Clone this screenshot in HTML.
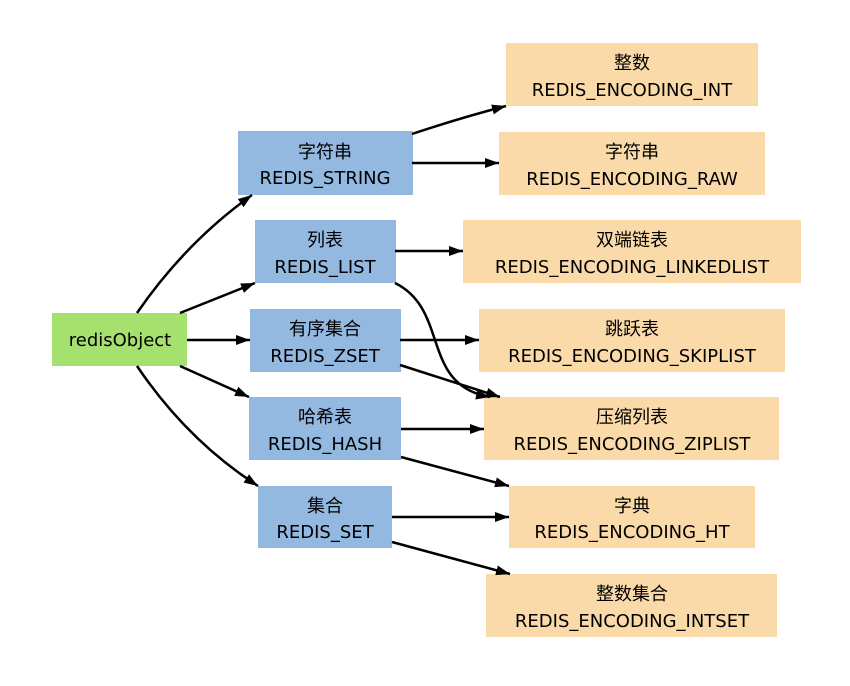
<!DOCTYPE html>
<html><head><meta charset="utf-8"><style>
html,body{margin:0;padding:0;background:#fff;}
svg text{font-family:"DejaVu Sans","Noto Sans CJK SC",sans-serif;font-size:18px;fill:#000;text-anchor:middle;}
</style></head><body>
<svg width="850" height="681" viewBox="0 0 850 681" xmlns="http://www.w3.org/2000/svg">
<defs><marker id="a" markerWidth="14" markerHeight="10" refX="14" refY="5" orient="auto" markerUnits="userSpaceOnUse"><path d="M0,0 L14,5 L0,10 z" fill="#000"/></marker></defs>
<g fill="#94b9e1">
<rect x="238" y="131" width="175" height="64"/>
<rect x="255" y="220" width="141" height="63"/>
<rect x="250" y="309" width="151" height="63"/>
<rect x="249" y="397" width="152" height="63"/>
<rect x="258" y="486" width="134" height="62"/>
</g>
<rect x="52" y="313" width="135" height="53" fill="#a6e06e"/>
<g fill="#fadaa9">
<rect x="506" y="43" width="252" height="63"/>
<rect x="499" y="132" width="266" height="63"/>
<rect x="463" y="220" width="338" height="63"/>
<rect x="479" y="309" width="306" height="63"/>
<rect x="484" y="397" width="295" height="63"/>
<rect x="509" y="486" width="246" height="62"/>
<rect x="486" y="574" width="291" height="63"/>
</g>
<g stroke="#000" stroke-width="2.5" fill="none" marker-end="url(#a)">
<path d="M137,313 C170,265 210,225 252,195"/>
<path d="M180,313 L255,283"/>
<path d="M187,340 L250,340"/>
<path d="M180,366 L249,397"/>
<path d="M137,366 C170,415 210,455 258,486"/>
<path d="M412,134 C445,123 475,114 506,106"/>
<path d="M412,163 L499,163"/>
<path d="M395,251 L463,251"/>
<path d="M395,283 C450,310 420,385 490,397"/>
<path d="M400,340 L479,340"/>
<path d="M400,365 L500,397"/>
<path d="M401,429 L484,429"/>
<path d="M401,457 L509,486"/>
<path d="M392,517 L509,517"/>
<path d="M392,542 L510,574"/>
</g>
<text x="120" y="346">redisObject</text>
<text x="325" y="158">字符串</text><text x="325" y="184">REDIS_STRING</text>
<text x="325" y="246">列表</text><text x="325" y="273">REDIS_LIST</text>
<text x="325" y="335">有序集合</text><text x="325" y="362">REDIS_ZSET</text>
<text x="325" y="423">哈希表</text><text x="325" y="450">REDIS_HASH</text>
<text x="325" y="512">集合</text><text x="325" y="538">REDIS_SET</text>
<text x="632" y="69">整数</text><text x="632" y="96">REDIS_ENCODING_INT</text>
<text x="632" y="158">字符串</text><text x="632" y="185">REDIS_ENCODING_RAW</text>
<text x="632" y="246">双端链表</text><text x="632" y="273">REDIS_ENCODING_LINKEDLIST</text>
<text x="632" y="335">跳跃表</text><text x="632" y="362">REDIS_ENCODING_SKIPLIST</text>
<text x="632" y="423">压缩列表</text><text x="632" y="450">REDIS_ENCODING_ZIPLIST</text>
<text x="632" y="512">字典</text><text x="632" y="538">REDIS_ENCODING_HT</text>
<text x="632" y="600">整数集合</text><text x="632" y="627">REDIS_ENCODING_INTSET</text>
</svg>
</body></html>
